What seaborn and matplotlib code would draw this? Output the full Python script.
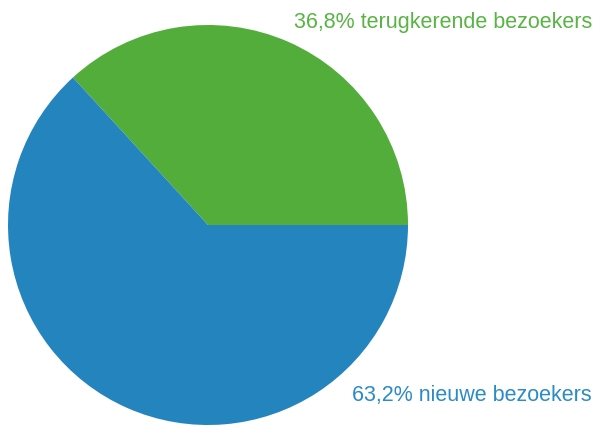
#!/usr/bin/env python3
"""Pie chart: nieuwe vs terugkerende bezoekers."""

import matplotlib
matplotlib.use("Agg")
import matplotlib.pyplot as plt
import seaborn as sns

LABELS = ["terugkerende bezoekers", "nieuwe bezoekers"]
SHARES = [36.8, 63.2]
SLICE_COLORS = ["#52ad3a", "#2384be"]
TEXT_COLORS = ["#58b443", "#2a8bc6"]


def main() -> None:
    sns.set_theme(style="white")
    plt.rcParams["font.family"] = ["Liberation Sans", "DejaVu Sans"]

    W, H = 596, 430
    fig = plt.figure(figsize=(W / 100, H / 100), dpi=100)
    cx, cy, r = 208, 225, 200
    ax = fig.add_axes([(cx - r) / W, (H - cy - r) / H, 2 * r / W, 2 * r / H])
    ax.pie(SHARES, colors=SLICE_COLORS, startangle=0, counterclock=True,
           radius=1, wedgeprops={"linewidth": 0})
    ax.set_xlim(-1, 1)
    ax.set_ylim(-1, 1)
    ax.set_aspect("equal")
    ax.axis("off")

    def fmt(v):
        return f"{v:.1f}".replace(".", ",") + "%"

    fig.text(592 / W, 1 - 28 / H, f"{fmt(SHARES[0])} {LABELS[0]}",
             color=TEXT_COLORS[0], fontsize=15.5, ha="right", va="baseline")
    fig.text(592 / W, 1 - 401 / H, f"{fmt(SHARES[1])} {LABELS[1]}",
             color=TEXT_COLORS[1], fontsize=15.5, ha="right", va="baseline")

    fig.savefig("out.png", dpi=100, facecolor="white")


if __name__ == "__main__":
    main()
